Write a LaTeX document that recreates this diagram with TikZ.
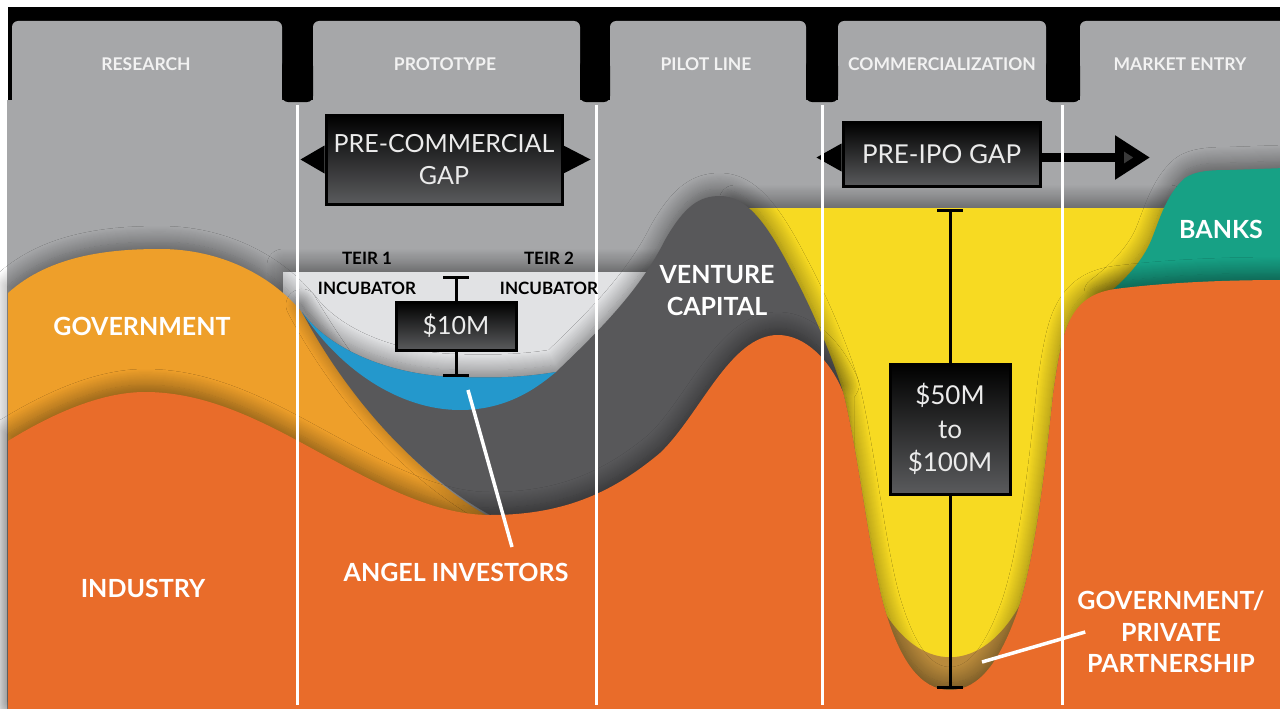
\documentclass[tikz,border=0pt]{standalone}
\usepackage{fontspec}
\setmainfont{Lato}
\usepackage{tikz}
\usetikzlibrary{positioning, arrows.meta, shadows.blur, calc}

\definecolor{bggray}{HTML}{A6A7A9}
\definecolor{bowl}{HTML}{E1E2E4}
\definecolor{govorange}{HTML}{EE9F2A}
\definecolor{indorange}{HTML}{E96C2A}
\definecolor{vcgray}{HTML}{58585A}
\definecolor{angelblue}{HTML}{2498CC}
\definecolor{ipoyellow}{HTML}{F7DA22}
\definecolor{gppbrown}{HTML}{B98A3B}
\definecolor{bankteal}{HTML}{17A185}
\definecolor{boxgray}{HTML}{5A5B5D}

\begin{document}
\begin{tikzpicture}[x=1pt, y=-1pt,
    tab/.style={fill=bggray, rounded corners=6pt},
    layer/.style={blur shadow={shadow xshift=0pt, shadow yshift=7pt, shadow blur radius=16pt, shadow blur steps=16, shadow opacity=45}},
    gapbox/.style={draw=black, line width=3pt, top color=black, bottom color=boxgray, text=white!92!black, inner sep=0pt, align=center, font=\fontsize{25}{32}\selectfont},
    tablabel/.style={text=white!95!black, font=\bfseries\fontsize{17.5}{21}\selectfont},
    lbl/.style={text=white, align=center, inner sep=0pt, font=\bfseries\fontsize{25}{32}\selectfont},
    inc/.style={text=black, align=center, font=\bfseries\fontsize{17}{30}\selectfont},
    bar/.style={line width=3pt},
    lead/.style={white, line width=3.5pt},
    sep/.style={white, line width=3pt},
]
\useasboundingbox (0,0) rectangle (1280,709);
\fill[white] (0,0) rectangle (1280,709);

% Stage tabs
\fill[black] (8,7) rectangle (1280,100);
\foreach \a/\b in {12/282, 313/580, 610/806, 838/1046, 1080/1300}
    \fill[tab] (\a,21) rectangle (\b,112);
\fill[bggray] (7,100) rectangle (1280,709);
\foreach \a/\b in {282/313, 580/610, 806/838, 1046/1080}
    \fill[black, rounded corners=6pt] (\a,60) rectangle (\b,102);

\node[tablabel] (research) at (146,64) {RESEARCH};
\node[tablabel] (prototype) at (445,64) {PROTOTYPE};
\node[tablabel] (pilot) at (706,64) {PILOT LINE};
\node[tablabel] (commerc) at (942,64) {COMMERCIALIZATION};
\node[tablabel] (market) at (1180,64) {MARKET ENTRY};

% Funding layers
\fill[bowl, layer] (283,272) rectangle (800,600);

\fill[ipoyellow, layer] (735,208) -- (1170,208) .. controls (1150,240) and (1140,280) .. (1110,300) -- (1070,320)
    .. controls (1062,335) and (1057,365) .. (1053,395) .. controls (1045,470) and (1035,560) .. (1017,613)
    .. controls (1000,660) and (980,690) .. (950,690) .. controls (920,690) and (900,660) .. (885,610)
    .. controls (870,560) and (858,450) .. (843,392) -- (790,300) -- cycle;

\fill[gppbrown] (860,709) -- (860,595) -- (875,595) .. controls (915,678) and (985,678) .. (1025,595) -- (1040,595) -- (1040,709) -- cycle;

\fill[bankteal, layer] (1100,300) .. controls (1120,285) and (1140,265) .. (1150,243) .. controls (1158,225) and (1165,195) .. (1185,178)
    .. controls (1195,171) and (1210,170) .. (1230,170) -- (1285,168) -- (1285,330) -- (1100,330) -- cycle;

\fill[govorange, layer] (8,293) .. controls (50,255) and (110,249) .. (160,249) .. controls (220,249) and (270,275) .. (300,310)
    .. controls (330,360) and (400,470) .. (495,520) -- (495,709) -- (8,709) -- cycle;

\fill[vcgray, layer] (302,312) .. controls (335,375) and (400,465) .. (490,515) -- (490,600) -- (838,600) -- (838,400) -- (843,392)
    .. controls (830,350) and (810,305) .. (790,268) .. controls (765,220) and (745,196) .. (720,196)
    .. controls (700,196) and (685,205) .. (665,240) .. controls (640,290) and (600,330) .. (556,372)
    .. controls (520,378) and (490,378) .. (455,377) .. controls (390,375) and (330,350) .. (302,312) -- cycle;

\fill[angelblue] (302,312) .. controls (340,370) and (400,410) .. (460,410) .. controls (510,410) and (540,385) .. (556,372)
    .. controls (520,378) and (490,378) .. (455,377) .. controls (390,375) and (330,350) .. (302,312) -- cycle;

\fill[indorange, layer] (8,441) .. controls (50,415) and (100,392) .. (145,392) .. controls (200,392) and (250,415) .. (300,442)
    .. controls (370,480) and (430,515) .. (490,515) .. controls (560,515) and (610,495) .. (660,453)
    .. controls (700,415) and (730,335) .. (778,335) .. controls (805,335) and (830,360) .. (843,392)
    .. controls (858,450) and (870,560) .. (885,610) .. controls (900,660) and (920,690) .. (950,690)
    .. controls (980,690) and (1000,660) .. (1017,613) .. controls (1035,560) and (1045,470) .. (1053,395)
    .. controls (1057,365) and (1062,335) .. (1070,320) .. controls (1080,300) and (1095,292) .. (1115,289)
    .. controls (1170,282) and (1230,280) .. (1285,280) -- (1285,715) -- (8,715) -- cycle;

% Gap boxes
\node[gapbox, minimum width=236pt, minimum height=89pt] (pcg) at (444,159.5) {PRE-COMMERCIAL\\GAP};
\fill ($(pcg.west)+(0,-14)$) -- ($(pcg.west)+(-24,0)$) -- ($(pcg.west)+(0,14)$) -- cycle;
\fill ($(pcg.east)+(0,-14)$) -- ($(pcg.east)+(27,0)$) -- ($(pcg.east)+(0,14)$) -- cycle;

\node[gapbox, minimum width=197pt, minimum height=64pt, font=\fontsize{26}{32}\selectfont] (ipo) at (941.5,154.5) {PRE-IPO GAP};
\fill ($(ipo.west)+(0,-11)$) -- ($(ipo.west)+(-25,3)$) -- ($(ipo.west)+(0,17)$) -- cycle;
\coordinate (ipoend) at (1150,157.5);
\draw[line width=9pt, -{Triangle[length=35pt, width=42pt]}] (ipo.east |- ipoend) -- (ipoend);

\node[gapbox, minimum width=120pt, minimum height=48pt] (ten) at (456,326) {\$10M};
\coordinate (tentop) at (456,276);
\coordinate (tenbot) at (456,377);
\draw[bar, {Bar[width=26pt]}-] (tentop) -- (ten);
\draw[bar, -{Bar[width=26pt]}] (ten) -- (tenbot);

\node[gapbox, minimum width=120pt, minimum height=130pt, font=\fontsize{26}{33.5}\selectfont] (fifty) at (950,429) {\$50M\\to\\\$100M};
\coordinate (fiftytop) at (950,209);
\coordinate (fiftybot) at (950,689);
\draw[bar, {Bar[width=26pt]}-] (fiftytop) -- (fifty);
\draw[bar, -{Bar[width=26pt]}] (fifty) -- (fiftybot);

% Stage separators
\foreach \x in {297,596,822,1062}
    \draw[sep] (\x,105) -- (\x,705);

% Labels
\node[inc] (teir1) at (367,273) {TEIR 1\\INCUBATOR};
\node[inc] (teir2) at (549,273) {TEIR 2\\INCUBATOR};
\node[lbl] (gov) at (142,326) {GOVERNMENT};
\node[lbl] (industry) at (143,588) {INDUSTRY};
\node[lbl] (vc) at (717,291) {VENTURE\\CAPITAL};
\node[lbl] (banks) at (1221,229) {BANKS};
\node[lbl] (angel) at (456,572) {ANGEL INVESTORS};
\node[lbl, font=\bfseries\fontsize{25}{31.5}\selectfont] (gpp) at (1171,632) {GOVERNMENT/\\PRIVATE\\PARTNERSHIP};

\coordinate (angeltip) at (468,390);
\coordinate (angelfoot) at (512,547);
\draw[lead] (angeltip) -- (angelfoot);
\coordinate (gpptip) at (982,662);
\draw[lead] (gpptip) -- ($(gpp.west)+(8,0)$);

\end{tikzpicture}
\end{document}
